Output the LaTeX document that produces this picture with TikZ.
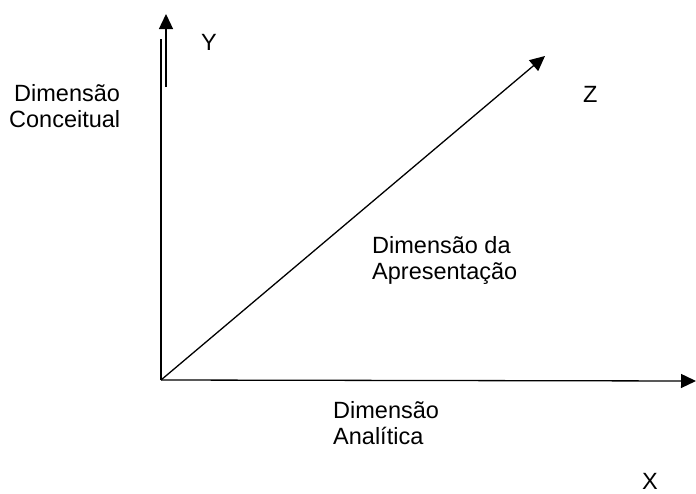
\documentclass[tikz,border=0pt]{standalone}
\usepackage{fontspec}
\setmainfont{Liberation Sans}
\usetikzlibrary{arrows.meta}
\begin{document}
\begin{tikzpicture}[x=1pt,y=-1pt,
  axis/.style={line width=1.3pt,-{Triangle[length=15pt,width=14pt]}},
  plain/.style={line width=1.3pt},
  lbl/.style={font=\fontsize{23.5}{26}\selectfont,inner sep=0pt,anchor=base west}]
\useasboundingbox (0,0) rectangle (696,493);
\coordinate (O) at (161,380);
\coordinate (ytop) at (161,39);
\coordinate (yarrowbot) at (166,87);
\coordinate (yarrowtip) at (166,14);
\coordinate (ztip) at (545,56);
\coordinate (xtip) at (696,381);
\draw[plain] (O) -- (ytop);
\draw[axis] (yarrowbot) -- (yarrowtip);
\draw[axis] (O) -- (ztip);
\draw[axis] (O) -- (xtip);
\node[lbl] (Y) at (201,50) {Y};
\node[lbl] (Z) at (583,102) {Z};
\node[lbl] (X) at (642,489) {X};
\node[lbl] (c1) at (14,101) {Dimensão};
\node[lbl] (c2) at (9,127) {Conceitual};
\node[lbl] (p1) at (372,253) {Dimensão da};
\node[lbl] (p2) at (372,279) {Apresentação};
\node[lbl] (a1) at (333,418) {Dimensão};
\node[lbl] (a2) at (333,444) {Analítica};
\end{tikzpicture}
\end{document}
